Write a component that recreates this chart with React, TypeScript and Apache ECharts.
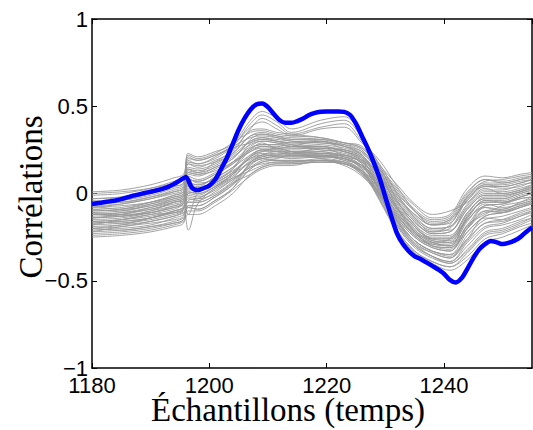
import React, { useEffect, useRef } from "react";
import * as echarts from "echarts";

// x positions of the knots at which the grey curves were read
const knotX = [1180, 1185, 1190, 1194, 1195.6, 1196.4, 1198, 1201, 1204, 1207, 1209, 1211.5, 1214, 1219, 1223, 1226, 1229, 1232, 1235, 1238, 1241, 1244, 1247, 1250, 1253, 1255];

// grey curves (values read at knotX)
const grey01 = [0.01, 0.02, 0.05, 0.09, 0.11, 0.20, 0.19, 0.22, 0.27, 0.32, 0.33, 0.32, 0.31, 0.30, 0.27, 0.24, 0.11, -0.02, -0.13, -0.20, -0.19, -0.03, 0.04, 0.04, 0.06, 0.08];
const grey02 = [-0.01, 0.00, 0.03, 0.07, 0.09, 0.22, 0.20, 0.23, 0.29, 0.35, 0.36, 0.34, 0.33, 0.32, 0.29, 0.26, 0.14, 0.02, -0.09, -0.15, -0.13, 0.01, 0.08, 0.07, 0.09, 0.10];
const grey03 = [-0.03, -0.02, 0.00, 0.04, 0.06, 0.15, 0.14, 0.17, 0.23, 0.33, 0.34, 0.33, 0.32, 0.31, 0.28, 0.24, 0.15, 0.03, -0.07, -0.14, -0.12, 0.03, 0.10, 0.09, 0.11, 0.12];
const grey04 = [-0.05, -0.04, -0.01, 0.03, 0.05, 0.19, 0.17, 0.20, 0.26, 0.29, 0.31, 0.30, 0.29, 0.30, 0.27, 0.22, 0.09, -0.05, -0.16, -0.23, -0.22, -0.09, -0.01, -0.01, 0.01, 0.03];
const grey05 = [-0.06, -0.05, -0.02, 0.01, 0.03, 0.11, 0.10, 0.14, 0.20, 0.30, 0.32, 0.31, 0.30, 0.29, 0.27, 0.23, 0.13, 0.00, -0.10, -0.17, -0.15, -0.02, 0.05, 0.05, 0.07, 0.08];
const grey06 = [-0.07, -0.06, -0.03, 0.00, 0.02, 0.17, 0.15, 0.19, 0.24, 0.36, 0.37, 0.35, 0.34, 0.32, 0.29, 0.26, 0.16, 0.05, -0.06, -0.12, -0.10, -0.05, 0.02, 0.02, 0.05, 0.06];
const grey07 = [-0.08, -0.07, -0.05, -0.01, 0.01, 0.08, 0.07, 0.11, 0.17, 0.26, 0.28, 0.28, 0.27, 0.27, 0.24, 0.20, 0.10, -0.04, -0.15, -0.21, -0.21, -0.07, 0.01, 0.01, 0.03, 0.05];
const grey08 = [-0.09, -0.08, -0.05, -0.02, 0.00, 0.13, 0.12, 0.15, 0.21, 0.28, 0.30, 0.29, 0.28, 0.27, 0.25, 0.21, 0.07, -0.08, -0.19, -0.26, -0.26, -0.15, -0.07, -0.06, -0.03, -0.02];
const grey09 = [-0.10, -0.09, -0.06, -0.03, -0.01, 0.06, 0.05, 0.09, 0.15, 0.22, 0.25, 0.25, 0.23, 0.26, 0.22, 0.18, 0.08, -0.07, -0.18, -0.24, -0.24, -0.11, -0.03, -0.03, 0.00, 0.02];
const grey10 = [-0.11, -0.10, -0.07, -0.04, -0.02, 0.10, 0.08, 0.12, 0.18, 0.25, 0.27, 0.27, 0.26, 0.26, 0.24, 0.19, 0.12, -0.01, -0.12, -0.18, -0.17, -0.01, 0.06, 0.06, 0.08, 0.09];
const grey11 = [-0.12, -0.11, -0.08, -0.05, -0.03, 0.04, 0.03, 0.07, 0.14, 0.29, 0.31, 0.30, 0.29, 0.28, 0.26, 0.22, 0.05, -0.09, -0.21, -0.27, -0.28, -0.20, -0.11, -0.10, -0.07, -0.05];
const grey12 = [-0.12, -0.11, -0.09, -0.05, -0.03, 0.02, 0.02, 0.06, 0.12, 0.21, 0.24, 0.26, 0.24, 0.21, 0.22, 0.17, 0.04, -0.11, -0.22, -0.28, -0.30, -0.13, -0.05, -0.05, -0.02, 0.00];
const grey13 = [-0.13, -0.12, -0.09, -0.06, -0.04, 0.08, 0.07, 0.11, 0.17, 0.24, 0.26, 0.26, 0.26, 0.25, 0.23, 0.19, 0.09, -0.05, -0.16, -0.23, -0.22, -0.09, -0.01, -0.01, 0.01, 0.03];
const grey14 = [-0.14, -0.13, -0.10, -0.07, -0.05, 0.01, 0.00, 0.04, 0.11, 0.18, 0.21, 0.22, 0.22, 0.22, 0.20, 0.15, 0.03, -0.12, -0.24, -0.30, -0.31, -0.22, -0.13, -0.11, -0.08, -0.06];
const grey15 = [-0.14, -0.13, -0.11, -0.07, -0.05, 0.06, 0.05, 0.09, 0.15, 0.26, 0.28, 0.28, 0.27, 0.27, 0.24, 0.20, 0.02, -0.14, -0.25, -0.31, -0.33, -0.18, -0.12, -0.07, -0.05, -0.03];
const grey16 = [-0.15, -0.14, -0.11, -0.08, -0.06, -0.01, -0.02, 0.03, 0.09, 0.19, 0.22, 0.23, 0.23, 0.23, 0.21, 0.16, 0.07, -0.08, -0.19, -0.26, -0.26, -0.11, -0.03, -0.03, 0.00, 0.02];
const grey17 = [-0.16, -0.15, -0.12, -0.09, -0.07, -0.12, 0.00, 0.06, 0.12, 0.22, 0.25, 0.25, 0.25, 0.24, 0.22, 0.18, 0.01, -0.15, -0.27, -0.33, -0.35, -0.26, -0.17, -0.15, -0.11, -0.09];
const grey18 = [-0.16, -0.15, -0.13, -0.10, -0.08, -0.03, -0.04, 0.01, 0.08, 0.15, 0.19, 0.20, 0.22, 0.20, 0.17, 0.13, 0.04, -0.11, -0.22, -0.28, -0.30, -0.15, -0.07, -0.06, -0.03, -0.02];
const grey19 = [-0.17, -0.16, -0.14, -0.10, -0.08, -0.05, -0.05, -0.01, 0.06, 0.17, 0.20, 0.21, 0.21, 0.21, 0.20, 0.14, 0.00, -0.16, -0.28, -0.34, -0.37, -0.24, -0.15, -0.13, -0.10, -0.08];
const grey20 = [-0.17, -0.16, -0.14, -0.11, -0.09, 0.01, 0.00, 0.04, 0.11, 0.21, 0.24, 0.24, 0.24, 0.23, 0.22, 0.17, -0.01, -0.18, -0.30, -0.36, -0.39, -0.30, -0.20, -0.18, -0.15, -0.12];
const grey21 = [-0.18, -0.17, -0.15, -0.12, -0.10, -0.07, -0.07, -0.02, 0.05, 0.14, 0.18, 0.19, 0.19, 0.19, 0.18, 0.13, 0.02, -0.14, -0.25, -0.31, -0.33, -0.20, -0.08, -0.10, -0.07, -0.05];
const grey22 = [-0.19, -0.18, -0.16, -0.13, -0.11, -0.21, -0.06, 0.03, 0.09, 0.13, 0.16, 0.18, 0.18, 0.19, 0.17, 0.12, -0.02, -0.19, -0.31, -0.37, -0.40, -0.32, -0.22, -0.20, -0.16, -0.14];
const grey23 = [-0.20, -0.19, -0.16, -0.13, -0.11, -0.08, -0.09, -0.04, 0.03, 0.18, 0.21, 0.22, 0.22, 0.22, 0.20, 0.15, 0.05, -0.09, -0.21, -0.27, -0.28, -0.13, -0.05, -0.05, -0.02, 0.00];
const grey24 = [-0.21, -0.20, -0.18, -0.14, -0.12, -0.05, -0.05, -0.01, 0.06, 0.11, 0.15, 0.17, 0.17, 0.18, 0.17, 0.11, -0.03, -0.21, -0.33, -0.39, -0.42, -0.34, -0.24, -0.22, -0.18, -0.15];
const grey25 = [-0.22, -0.21, -0.19, -0.16, -0.14, -0.10, -0.10, -0.05, 0.02, 0.10, 0.14, 0.16, 0.16, 0.19, 0.16, 0.10, -0.01, -0.18, -0.30, -0.36, -0.39, -0.28, -0.19, -0.17, -0.13, -0.11];
const grey26 = [-0.23, -0.22, -0.20, -0.17, -0.15, -0.08, -0.09, -0.04, 0.03, 0.14, 0.18, 0.19, 0.19, 0.19, 0.18, 0.13, -0.04, -0.22, -0.34, -0.40, -0.44, -0.38, -0.28, -0.25, -0.21, -0.18];
const grey27 = [-0.24, -0.23, -0.21, -0.18, -0.16, -0.12, -0.12, -0.07, 0.00, 0.11, 0.15, 0.17, 0.17, 0.18, 0.17, 0.11, 0.01, -0.15, -0.27, -0.33, -0.35, -0.22, -0.13, -0.11, -0.08, -0.06];
const grey28 = [-0.25, -0.24, -0.22, -0.19, -0.17, -0.07, -0.07, -0.02, 0.05, 0.17, 0.20, 0.21, 0.21, 0.21, 0.20, 0.14, -0.03, -0.21, -0.33, -0.39, -0.42, -0.36, -0.26, -0.23, -0.19, -0.17];
const grey29 = [-0.03, -0.02, 0.02, 0.06, 0.08, 0.18, 0.17, 0.21, 0.28, 0.42, 0.47, 0.43, 0.37, 0.42, 0.44, 0.33, 0.14, -0.08, -0.22, -0.30, -0.32, -0.20, -0.10, -0.09, -0.06, -0.04];
const grey30 = [-0.08, -0.06, -0.03, 0.01, 0.03, 0.21, 0.19, 0.22, 0.27, 0.40, 0.45, 0.41, 0.35, 0.40, 0.42, 0.32, 0.16, -0.04, -0.18, -0.26, -0.27, -0.14, -0.04, -0.05, -0.02, 0.00];
const grey31 = [-0.10, -0.09, -0.05, -0.01, 0.01, 0.14, 0.12, 0.18, 0.25, 0.37, 0.43, 0.39, 0.34, 0.38, 0.40, 0.30, 0.17, 0.00, -0.14, -0.22, -0.20, -0.08, 0.00, 0.00, 0.02, 0.04];
const grey32 = [-0.05, -0.04, 0.00, 0.04, 0.06, 0.23, 0.21, 0.24, 0.28, 0.38, 0.41, 0.37, 0.33, 0.37, 0.38, 0.29, 0.19, 0.04, -0.10, -0.18, -0.16, -0.04, 0.05, 0.04, 0.06, 0.08];
const grey33 = [-0.20, -0.18, -0.14, -0.10, -0.08, 0.05, 0.04, 0.10, 0.18, 0.27, 0.30, 0.29, 0.27, 0.26, 0.25, 0.22, 0.10, -0.06, -0.17, -0.22, -0.18, -0.02, 0.07, 0.08, 0.10, 0.11];
const grey34 = [0.00, 0.01, 0.03, 0.06, 0.08, 0.12, 0.11, 0.13, 0.18, 0.24, 0.27, 0.26, 0.24, 0.23, 0.21, 0.16, 0.02, -0.16, -0.29, -0.36, -0.40, -0.33, -0.23, -0.21, -0.17, -0.14];
const grey35 = [-0.11, -0.13, -0.10, -0.05, -0.04, 0.09, 0.06, 0.08, 0.14, 0.25, 0.29, 0.26, 0.27, 0.30, 0.25, 0.21, 0.10, -0.03, -0.14, -0.20, -0.19, -0.06, 0.03, 0.00, 0.02, 0.05];
const grey36 = [-0.18, -0.15, -0.12, -0.11, -0.09, 0.03, 0.02, 0.07, 0.13, 0.20, 0.23, 0.22, 0.24, 0.24, 0.21, 0.18, 0.06, -0.10, -0.22, -0.30, -0.31, -0.18, -0.08, -0.09, -0.05, -0.02];
const grey37 = [-0.07, -0.09, -0.07, -0.03, -0.01, 0.12, 0.11, 0.15, 0.20, 0.31, 0.34, 0.32, 0.30, 0.29, 0.28, 0.25, 0.12, -0.02, -0.12, -0.18, -0.15, -0.04, 0.04, 0.03, 0.04, 0.07];
const grey38 = [-0.14, -0.12, -0.08, -0.04, -0.02, 0.05, 0.03, 0.06, 0.12, 0.20, 0.22, 0.21, 0.20, 0.21, 0.19, 0.13, 0.00, -0.13, -0.24, -0.29, -0.29, -0.16, -0.06, -0.08, -0.06, -0.04];
const grey39 = [-0.22, -0.19, -0.17, -0.15, -0.13, 0.00, -0.01, 0.04, 0.10, 0.18, 0.22, 0.24, 0.23, 0.22, 0.19, 0.16, 0.03, -0.13, -0.23, -0.28, -0.26, -0.12, -0.02, -0.02, 0.01, 0.04];
const grey40 = [-0.04, -0.05, -0.02, 0.02, 0.04, 0.14, 0.13, 0.16, 0.22, 0.30, 0.32, 0.30, 0.28, 0.25, 0.24, 0.19, 0.04, -0.12, -0.23, -0.29, -0.30, -0.19, -0.10, -0.11, -0.08, -0.05];
const grey41 = [-0.16, -0.17, -0.14, -0.11, -0.09, -0.02, -0.03, 0.00, 0.07, 0.16, 0.20, 0.19, 0.18, 0.20, 0.18, 0.12, -0.01, -0.16, -0.27, -0.33, -0.36, -0.26, -0.14, -0.15, -0.12, -0.10];
const grey42 = [-0.09, -0.10, -0.06, -0.02, 0.00, 0.17, 0.16, 0.18, 0.23, 0.33, 0.35, 0.33, 0.31, 0.31, 0.29, 0.27, 0.14, 0.01, -0.10, -0.16, -0.14, 0.00, 0.08, 0.06, 0.08, 0.10];
const grey43 = [-0.12, -0.12, -0.11, -0.08, -0.06, 0.00, 0.01, 0.05, 0.11, 0.21, 0.25, 0.24, 0.22, 0.22, 0.20, 0.16, 0.06, -0.08, -0.20, -0.25, -0.25, -0.14, -0.04, -0.04, -0.01, 0.01];
const grey44 = [-0.20, -0.21, -0.19, -0.17, -0.15, -0.04, -0.03, 0.02, 0.08, 0.15, 0.17, 0.18, 0.18, 0.18, 0.17, 0.12, 0.00, -0.17, -0.29, -0.34, -0.37, -0.27, -0.17, -0.16, -0.13, -0.10];

const greyCurves = [grey01, grey02, grey03, grey04, grey05, grey06, grey07, grey08, grey09, grey10, grey11, grey12, grey13, grey14, grey15, grey16, grey17, grey18, grey19, grey20, grey21, grey22, grey23, grey24, grey25, grey26, grey27, grey28, grey29, grey30, grey31, grey32, grey33, grey34, grey35, grey36, grey37, grey38, grey39, grey40, grey41, grey42, grey43, grey44];

// blue curve: one value per sample, 1180 .. 1255
const blueStart = 1180;
const blueValues = [
  -0.06, -0.055, -0.05, -0.045, -0.04, -0.032, -0.022, -0.012, -0.005, 0.003,
  0.01, 0.018, 0.027, 0.038, 0.055, 0.075, 0.095, 0.035, 0.02, 0.03,
  0.045, 0.08, 0.14, 0.205, 0.285, 0.365, 0.43, 0.48, 0.51, 0.516,
  0.495, 0.455, 0.42, 0.405, 0.405, 0.415, 0.43, 0.45, 0.462, 0.468,
  0.47, 0.47, 0.47, 0.468, 0.45, 0.40, 0.33, 0.26, 0.18, 0.09,
  -0.02, -0.13, -0.23, -0.29, -0.33, -0.36, -0.375, -0.395, -0.415, -0.435,
  -0.46, -0.495, -0.51, -0.485, -0.43, -0.37, -0.32, -0.29, -0.272, -0.28,
  -0.29, -0.283, -0.27, -0.25, -0.22, -0.195,
];

const xMin = 1180;
const xMax = 1255;
const xStep = 20;
const yMin = -1;
const yMax = 1;
const yStep = 0.5;

const xTitle = "Échantillons (temps)";
const yTitle = "Corrélations";

export default function App() {
  const ref = useRef<HTMLDivElement>(null);

  useEffect(() => {
    if (!ref.current) return;
    const chart = echarts.init(ref.current, null, { renderer: "svg" });

    const tickFont = { fontFamily: "Liberation Sans", fontSize: 22, color: "#000" };
    const axisLine = { show: true, onZero: false, lineStyle: { color: "#000", width: 1.5 } };
    const axisTick = { show: true, inside: true, length: 5, lineStyle: { color: "#000", width: 1 } };

    const greySeries = greyCurves.map((vals, i) => ({
      type: "line",
      name: "g" + i,
      data: knotX.map((x, j) => [x, vals[j]]),
      showSymbol: false,
      symbol: "none",
      smooth: 0.35,
      silent: true,
      z: 2,
      lineStyle: { color: "#999999", width: 0.9 },
    }));

    const blueSeries = {
      type: "line",
      name: "blue",
      data: blueValues.map((v, i) => [blueStart + i, v]),
      showSymbol: false,
      symbol: "none",
      smooth: 0.3,
      silent: true,
      z: 3,
      lineStyle: { color: "#0000ff", width: 4.5 },
    };

    chart.setOption({
      animation: false,
      grid: { left: 92, right: 1, top: 19, bottom: 62, containLabel: false },
      xAxis: [
        {
          type: "value",
          position: "bottom",
          min: xMin,
          max: xMax,
          interval: xStep,
          axisLine,
          axisTick,
          splitLine: { show: false },
          axisLabel: {
            ...tickFont,
            margin: 6,
            showMaxLabel: false,
            formatter: (v: number) => (v % xStep === 0 ? String(v) : ""),
          },
        },
        {
          type: "value",
          position: "top",
          min: xMin,
          max: xMax,
          interval: xStep,
          axisLine,
          axisTick,
          splitLine: { show: false },
          axisLabel: { show: false },
        },
      ],
      yAxis: [
        {
          type: "value",
          position: "left",
          min: yMin,
          max: yMax,
          interval: yStep,
          axisLine,
          axisTick,
          splitLine: { show: false },
          axisLabel: {
            ...tickFont,
            margin: 4,
            formatter: (v: number) => String(v).replace("-", "\u2212"),
          },
        },
        {
          type: "value",
          position: "right",
          min: yMin,
          max: yMax,
          interval: yStep,
          axisLine,
          axisTick,
          splitLine: { show: false },
          axisLabel: { show: false },
        },
      ],
      graphic: [
        {
          type: "text",
          x: 288,
          y: 410,
          style: {
            text: xTitle,
            font: '33px "Liberation Serif"',
            fill: "#000",
            align: "center",
            verticalAlign: "middle",
            textAlign: "center",
            textVerticalAlign: "middle",
          },
        },
        {
          type: "text",
          x: 31,
          y: 197,
          rotation: Math.PI / 2,
          style: {
            text: yTitle,
            font: '33px "Liberation Serif"',
            fill: "#000",
            align: "center",
            verticalAlign: "middle",
            textAlign: "center",
            textVerticalAlign: "middle",
          },
        },
      ],
      series: [...greySeries, blueSeries],
    });

    return () => chart.dispose();
  }, []);

  return (
    <div
      ref={ref}
      style={{ position: "fixed", left: 0, top: 0, width: 533, height: 430, background: "#fff" }}
    />
  );
}
